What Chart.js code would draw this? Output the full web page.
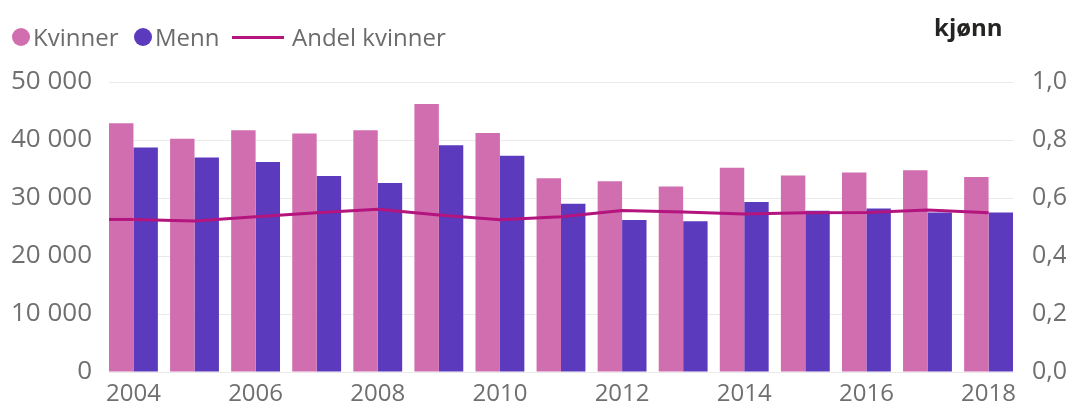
<!DOCTYPE html>
<html>
<head>
<meta charset="utf-8">
<script src="https://cdn.jsdelivr.net/npm/chart.js@4"></script>
<style>
  html, body { margin: 0; padding: 0; background: #fff; }
  #wrap { position: relative; width: 1066px; height: 409px; overflow: hidden; font-family: "Open Sans", "Noto Sans", sans-serif; }
  canvas { position: absolute; left: 0; top: 0; }
  .lg { position: absolute; top: 20px; height: 34px; line-height: 34px; font-size: 24px; color: #6b6b6b; white-space: nowrap; }
  .dot { position: absolute; width: 18px; height: 18px; border-radius: 50%; top: 28px; }
  .ln { position: absolute; height: 3px; top: 36px; }
  #title { position: absolute; left: 934px; top: 10px; font-size: 24px; font-weight: bold; color: #252423; line-height: 34px; }
</style>
</head>
<body>
<div id="wrap">
  <canvas id="c" width="1066" height="409"></canvas>
  <div id="legend"></div>
  <div id="title">kjønn</div>
</div>
<script>
// ---- data ----
const years = [2004, 2005, 2006, 2007, 2008, 2009, 2010, 2011, 2012, 2013, 2014, 2015, 2016, 2017, 2018];
const kvinner = [42900, 40200, 41700, 41100, 41700, 46200, 41200, 33400, 32900, 32000, 35200, 33900, 34400, 34800, 33600];
const menn = [38700, 37000, 36200, 33800, 32600, 39100, 37300, 29000, 26200, 26000, 29300, 27800, 28200, 27500, 27500];
const andelKvinner = [0.526, 0.521, 0.535, 0.549, 0.561, 0.541, 0.525, 0.535, 0.557, 0.552, 0.545, 0.549, 0.550, 0.559, 0.549];
const tickYears = [2004, 2006, 2008, 2010, 2012, 2014, 2016, 2018];
const leftTicks = [0, 10000, 20000, 30000, 40000, 50000];
const rightTicks = [0, 0.2, 0.4, 0.6, 0.8, 1.0];
const seriesNames = ["Kvinner", "Menn", "Andel kvinner"];
const title = "kjønn";

const colors = { kvinner: "#D06EAF", menn: "#5C3ABE", andel: "#B4147D", tick: "#6f6f6f", grid: "#EAEAEA" };

// ---- HTML legend ----
const legend = document.getElementById("legend");
legend.innerHTML =
  '<div class="dot" style="left:12px;background:' + colors.kvinner + '"></div>' +
  '<div class="lg" style="left:33px">' + seriesNames[0] + '</div>' +
  '<div class="dot" style="left:134px;background:' + colors.menn + '"></div>' +
  '<div class="lg" style="left:155px">' + seriesNames[1] + '</div>' +
  '<div class="ln" style="left:232px;width:52px;background:' + colors.andel + '"></div>' +
  '<div class="lg" style="left:292px">' + seriesNames[2] + '</div>';
document.getElementById("title").textContent = title;

const fmtThousands = v => String(Math.round(v)).replace(/\B(?=(\d{3})+(?!\d))/g, " ");
const fmtShare = v => v.toFixed(1).replace(".", ",");

const toXY = arr => years.map((y, i) => ({ x: y, y: arr[i] }));

// extends the share line flat to the left plot edge, as in the source chart
const lineLead = {
  id: "lineLead",
  afterDatasetsDraw(chart) {
    const meta = chart.getDatasetMeta(0);
    const p = meta.data[0];
    if (!p) return;
    const ctx = chart.ctx;
    ctx.save();
    ctx.strokeStyle = colors.andel;
    ctx.lineWidth = 3;
    ctx.beginPath();
    ctx.moveTo(chart.chartArea.left, p.y);
    ctx.lineTo(p.x, p.y);
    ctx.stroke();
    ctx.restore();
  }
};

new Chart(document.getElementById("c"), {
  data: {
    datasets: [
      { type: "line", label: seriesNames[2], data: toXY(andelKvinner), yAxisID: "y1", borderColor: colors.andel, borderWidth: 3, pointRadius: 0, tension: 0, order: 0 },
      { type: "bar", label: seriesNames[0], data: toXY(kvinner), yAxisID: "y", backgroundColor: colors.kvinner, categoryPercentage: 0.8, barPercentage: 1.0, order: 1 },
      { type: "bar", label: seriesNames[1], data: toXY(menn), yAxisID: "y", backgroundColor: colors.menn, categoryPercentage: 0.8, barPercentage: 1.0, order: 1 }
    ]
  },
  plugins: [lineLead],
  options: {
    responsive: false,
    devicePixelRatio: 1,
    animation: false,
    layout: { padding: { top: 82, left: 0, right: 0, bottom: 0 } },
    plugins: { legend: { display: false }, tooltip: { enabled: false }, title: { display: false } },
    scales: {
      x: {
        type: "linear",
        offset: false,
        min: years[0] - 0.4,
        max: years[years.length - 1] + 0.4,
        grid: { display: false, drawTicks: false, offset: false },
        border: { display: false },
        afterBuildTicks: s => { s.ticks = tickYears.map(v => ({ value: v })); },
        afterFit: s => { s.height = 37; },
        ticks: { autoSkip: false, maxRotation: 0, padding: 8, color: colors.tick, font: { family: "Open Sans", size: 24 }, callback: v => String(v) }
      },
      y: {
        position: "left",
        min: 0, max: 50000,
        afterBuildTicks: s => { s.ticks = leftTicks.map(v => ({ value: v })); },
        afterFit: s => { s.width = 109; },
        grid: { color: colors.grid, lineWidth: 1, drawTicks: false },
        border: { display: false },
        ticks: { padding: 17, color: colors.tick, font: { family: "Open Sans", size: 26 }, callback: v => fmtThousands(v) }
      },
      y1: {
        position: "right",
        min: 0, max: 1,
        afterBuildTicks: s => { s.ticks = rightTicks.map(v => ({ value: v })); },
        afterFit: s => { s.width = 53; },
        grid: { display: false, drawTicks: false },
        border: { display: false },
        ticks: { padding: 19, color: colors.tick, font: { family: "Open Sans", size: 25 }, callback: v => fmtShare(v) }
      }
    }
  }
});
</script>
</body>
</html>
